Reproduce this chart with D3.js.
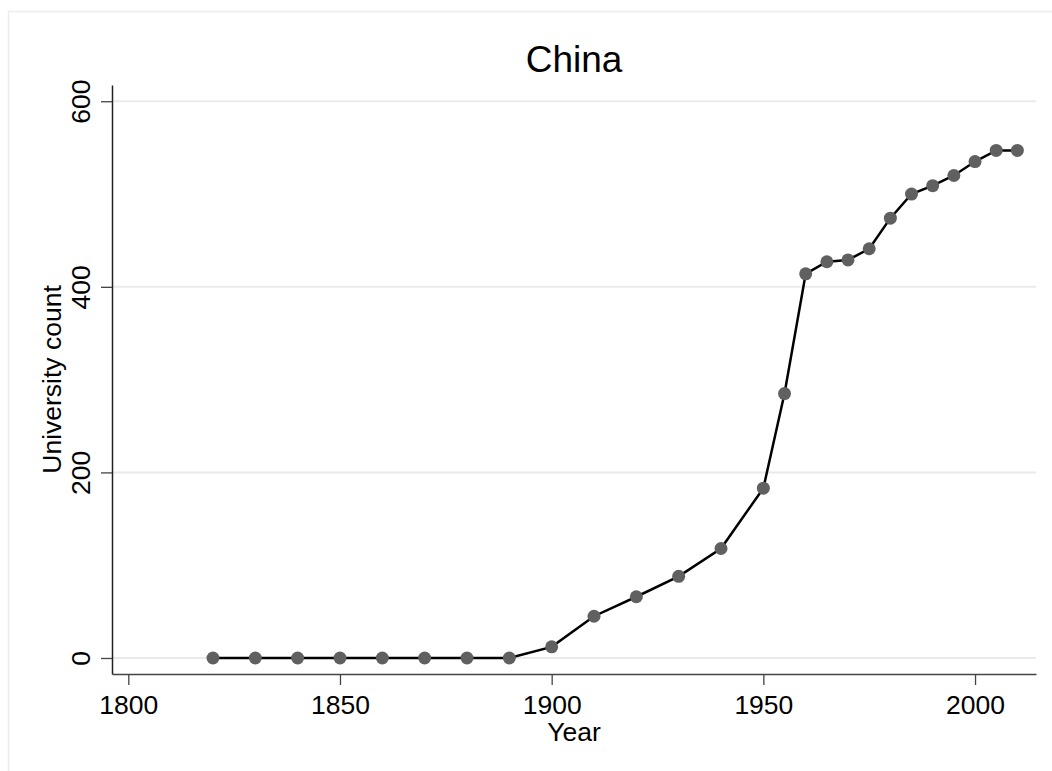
<!DOCTYPE html>
<html>
<head>
<meta charset="utf-8">
<script src="https://cdn.jsdelivr.net/npm/d3@7"></script>
<style>
  body { margin: 0; background: #fff; }
  svg { display: block; font-family: "Liberation Sans", Arial, sans-serif; }
</style>
</head>
<body>
<div id="chart"></div>
<script>
const years = [1820, 1830, 1840, 1850, 1860, 1870, 1880, 1890, 1900, 1910, 1920, 1930, 1940,
  1950, 1955, 1960, 1965, 1970, 1975, 1980, 1985, 1990, 1995, 2000, 2005, 2010];
const counts = [0, 0, 0, 0, 0, 0, 0, 0, 12, 45, 66, 88, 118,
  183, 285, 414, 427, 429, 441, 474, 500, 509, 520, 535, 547, 547];
const xTicks = [1800, 1850, 1900, 1950, 2000];
const yTicks = [0, 200, 400, 600];

const W = 1052, H = 771;
const margin = { top: 85, right: 16, bottom: 97, left: 112 };

const svg = d3.select("#chart").append("svg")
  .attr("width", W)
  .attr("height", H);

// outer frame, runs off the right and bottom edge
svg.append("rect")
  .attr("x", 8.5).attr("y", 11.5)
  .attr("width", 1100).attr("height", 800)
  .attr("fill", "none")
  .attr("stroke", "#ececec")
  .attr("stroke-width", 1.5);

const x = d3.scaleLinear()
  .domain([1796.15, 2014.4])
  .range([margin.left, W - margin.right]);

const y = d3.scaleLinear()
  .domain([-17.25, 617.5])
  .range([H - margin.bottom, margin.top]);

// grid
svg.append("g").selectAll("line")
  .data(yTicks)
  .join("line")
  .attr("x1", margin.left).attr("x2", W - margin.right)
  .attr("y1", d => y(d)).attr("y2", d => y(d))
  .attr("stroke", "#eaeaea")
  .attr("stroke-width", 2);

// title
svg.append("text")
  .attr("x", (margin.left + W - margin.right) / 2)
  .attr("y", 72)
  .attr("text-anchor", "middle")
  .style("font-size", "37px")
  .text("China");

// y axis
const yAxis = svg.append("g")
  .attr("transform", `translate(${margin.left},0)`)
  .call(d3.axisLeft(y).tickValues(yTicks).tickSize(11).tickSizeOuter(0).tickPadding(11));
yAxis.select(".domain").attr("stroke", "#222").attr("stroke-width", 1.5);
yAxis.selectAll(".tick line").attr("stroke", "#444").attr("stroke-width", 1.3);
yAxis.selectAll(".tick text")
  .attr("transform", "rotate(-90)")
  .attr("x", 0)
  .attr("y", -22)
  .attr("dy", 0)
  .attr("text-anchor", "middle")
  .attr("fill", "#000")
  .style("font-size", "26.5px");

// x axis
const xAxis = svg.append("g")
  .attr("transform", `translate(0,${H - margin.bottom})`)
  .call(d3.axisBottom(x).tickValues(xTicks).tickFormat(d3.format("d")).tickSize(11).tickSizeOuter(0).tickPadding(6));
xAxis.select(".domain").attr("stroke", "#444").attr("stroke-width", 1.5);
xAxis.selectAll(".tick line").attr("stroke", "#444").attr("stroke-width", 1.3);
xAxis.selectAll(".tick text")
  .attr("dy", 0)
  .attr("y", 39.5)
  .attr("fill", "#000")
  .style("font-size", "26.5px");

// axis titles
svg.append("text")
  .attr("x", (margin.left + W - margin.right) / 2)
  .attr("y", 741)
  .attr("text-anchor", "middle")
  .style("font-size", "26.5px")
  .text("Year");

svg.append("text")
  .attr("transform", `translate(61,${(margin.top + H - margin.bottom) / 2}) rotate(-90)`)
  .attr("text-anchor", "middle")
  .style("font-size", "26.5px")
  .text("University count");

// series
const pts = years.map((yr, i) => ({ yr, v: counts[i] }));

svg.append("path")
  .datum(pts)
  .attr("fill", "none")
  .attr("stroke", "#000")
  .attr("stroke-width", 2.5)
  .attr("d", d3.line().x(d => x(d.yr)).y(d => y(d.v)));

svg.append("g").selectAll("circle")
  .data(pts)
  .join("circle")
  .attr("cx", d => x(d.yr))
  .attr("cy", d => y(d.v))
  .attr("r", 6.5)
  .attr("fill", "#606060");
</script>
</body>
</html>
